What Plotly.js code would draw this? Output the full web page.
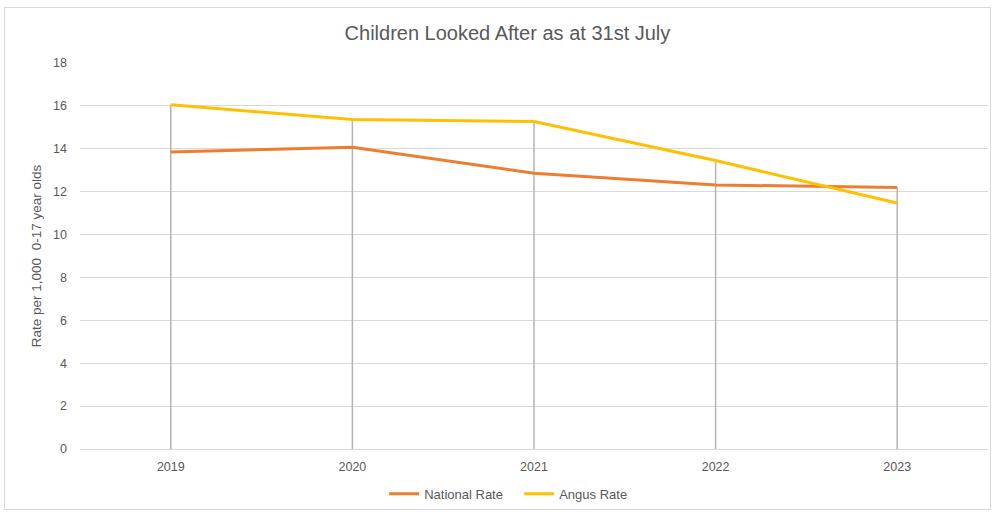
<!DOCTYPE html>
<html>
<head>
<meta charset="utf-8">
<script src="https://cdn.plot.ly/plotly-3.0.1.min.js"></script>
<style>
  html, body { margin: 0; padding: 0; background: #ffffff; }
  #chart { width: 995px; height: 516px; }
  #frame { position: absolute; left: 4px; top: 7px; width: 987px; height: 503px; border: 1px solid #d9d9d9; pointer-events: none; box-sizing: border-box; }
</style>
</head>
<body>
<div id="chart"></div>
<div id="frame"></div>
<script>
const years = ['2019', '2020', '2021', '2022', '2023'];
const nationalRate = [13.85, 14.07, 12.86, 12.31, 12.2];
const angusRate = [16.05, 15.37, 15.27, 13.45, 11.47];

const FONT = 'Liberation Sans, Arial, sans-serif';

// drop lines from the highest point of each category to the axis
const dropX = [], dropY = [];
years.forEach((y, i) => {
  dropX.push(y, y, null);
  dropY.push(0, Math.max(nationalRate[i], angusRate[i]), null);
});

const traces = [
  {
    x: dropX, y: dropY, type: 'scatter', mode: 'lines',
    line: { color: '#b4b4b4', width: 1.5 },
    showlegend: false, hoverinfo: 'skip', connectgaps: false
  },
  {
    x: years, y: nationalRate, name: 'National Rate', type: 'scatter', mode: 'lines',
    line: { color: '#ED7D31', width: 3 }
  },
  {
    x: years, y: angusRate, name: 'Angus Rate', type: 'scatter', mode: 'lines',
    line: { color: '#FFC000', width: 3 }
  }
];

const layout = {
  width: 995, height: 516,
  paper_bgcolor: '#ffffff', plot_bgcolor: '#ffffff',
  margin: { l: 80, r: 7, t: 63, b: 65 },
  font: { family: FONT, color: '#595959', size: 12 },
  title: {
    text: 'Children Looked After as at 31st July',
    font: { family: FONT, size: 20, color: '#595959' },
    x: 0.51, xanchor: 'center', y: 0.936, yanchor: 'middle'
  },
  xaxis: {
    type: 'category', range: [-0.5, 4.5],
    showgrid: false, zeroline: false,
    showline: true, linecolor: '#d9d9d9', linewidth: 1,
    ticks: '', ticklabelstandoff: 6,
    tickfont: { size: 12.5, color: '#595959' }
  },
  yaxis: {
    range: [0, 18], dtick: 2, tick0: 0,
    showgrid: true, gridcolor: '#d9d9d9', gridwidth: 1,
    zeroline: false, showline: false, ticks: '',
    ticklabelstandoff: 12,
    tickfont: { size: 12.5, color: '#595959' },
    title: { text: 'Rate per 1,000  0-17 year olds', font: { size: 13.5, color: '#595959' }, standoff: 8 }
  },
  legend: {
    orientation: 'h', x: 0.335, xanchor: 'left', y: -0.116, yanchor: 'middle',
    font: { size: 13, color: '#595959' }, entrywidth: 90, entrywidthmode: 'pixels', tracegroupgap: 0
  },
  showlegend: true
};

Plotly.newPlot('chart', traces, layout, { displayModeBar: false, staticPlot: true });
</script>
</body>
</html>
